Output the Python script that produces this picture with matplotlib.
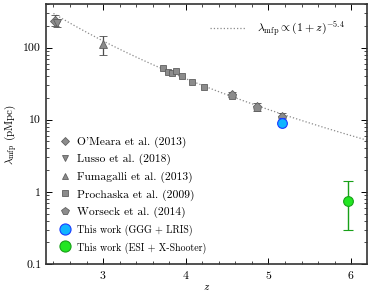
import numpy as np
import matplotlib
matplotlib.use("Agg")
import matplotlib.pyplot as plt
from matplotlib.lines import Line2D
from matplotlib.ticker import FixedLocator, FuncFormatter, MultipleLocator, LogLocator, NullFormatter

plt.rcParams.update({
    'font.family': 'serif',
    'font.serif': ['cmr10'],
    'mathtext.fontset': 'cm',
    'axes.formatter.use_mathtext': True,
    'font.size': 8,
})

# data
omeara_z, omeara_l, omeara_lo, omeara_hi = [2.42], [236.0], [40.0], [43.0]
lusso_z, lusso_l, lusso_lo, lusso_hi = [2.44], [220.0], [25.0], [25.0]
fuma_z, fuma_l, fuma_lo, fuma_hi = [3.0], [112.0], [32.0], [34.0]
proch_z = [3.73, 3.78, 3.83, 3.88, 3.96, 4.07, 4.22]
proch_l = [52.7, 45.5, 45.0, 47.5, 39.7, 33.7, 28.8]
wors_z = [4.56, 4.86, 5.16]
wors_l = [22.2, 15.1, 10.9]
wors_err = [1.8, 1.8, 1.6]
ggg_z, ggg_l, ggg_lo, ggg_hi = [5.16], [9.09], [1.28], [1.62]
esi_z, esi_l, esi_lo, esi_hi = [5.96], [0.75], [0.45], [0.65]
fit_norm, fit_slope = 37.0, -5.4

grey = '#8c8c8c'
grey_edge = '#5f5f5f'
err_grey = '#4d4d4d'

fig = plt.figure(figsize=(3.74, 2.93), dpi=100)
ax = fig.add_axes([0.123, 0.099, 0.858, 0.887])

zz = np.linspace(2.4, 6.2, 200)
ax.plot(zz, fit_norm * ((1 + zz) / 5.0) ** fit_slope, ls=':', color='#8a8a8a', lw=0.9, zorder=1)

eb = dict(ecolor=err_grey, elinewidth=0.9, capsize=3, capthick=0.9, ls='none', zorder=3)
ax.errorbar(omeara_z, omeara_l, yerr=[omeara_lo, omeara_hi], marker='D', ms=5,
            mfc=grey, mec=grey_edge, mew=0.6, **eb)
ax.errorbar(lusso_z, lusso_l, yerr=[lusso_lo, lusso_hi], marker='v', ms=6,
            mfc=grey, mec=grey_edge, mew=0.6, **eb)
ax.errorbar(fuma_z, fuma_l, yerr=[fuma_lo, fuma_hi], marker='^', ms=6,
            mfc=grey, mec=grey_edge, mew=0.6, **eb)
ax.plot(proch_z, proch_l, 's', ms=5, mfc=grey, mec=grey_edge, mew=0.6, zorder=4)
ax.errorbar(wors_z, wors_l, yerr=wors_err, marker='p', ms=6.5,
            mfc=grey, mec=grey_edge, mew=0.6, **eb)
ax.errorbar(ggg_z, ggg_l, yerr=[ggg_lo, ggg_hi], marker='o', ms=7,
            mfc='#10b4ff', mec='#1a3cff', mew=0.8, ecolor='#1a3cff',
            elinewidth=1.0, capsize=2, ls='none', zorder=5)
ax.errorbar(esi_z, esi_l, yerr=[esi_lo, esi_hi], marker='o', ms=7,
            mfc='#22e622', mec='#18a018', mew=0.8, ecolor='#18a018',
            elinewidth=1.0, capsize=3.5, capthick=1.0, ls='none', zorder=5)

ax.set_yscale('log')
ax.set_xlim(2.31, 6.19)
ax.set_ylim(0.1, 400)
ax.yaxis.set_major_locator(FixedLocator([0.1, 1, 10, 100]))
ax.yaxis.set_major_formatter(FuncFormatter(lambda v, p: '%g' % v))
ax.yaxis.set_minor_locator(LogLocator(base=10, subs=np.arange(2, 10)))
ax.yaxis.set_minor_formatter(NullFormatter())
ax.xaxis.set_major_locator(FixedLocator([3, 4, 5, 6]))
ax.xaxis.set_minor_locator(MultipleLocator(0.2))
ax.tick_params(which='both', direction='in', top=True, right=True)
ax.tick_params(which='major', length=4, width=0.7, labelsize=8.5)
ax.tick_params(which='minor', length=2, width=0.5)
for s in ax.spines.values():
    s.set_linewidth(1.2)
    s.set_color('#333333')

ax.set_xlabel(r'$z$', labelpad=1)
ax.set_ylabel(r'$\lambda_{\rm mfp}$ (pMpc)', labelpad=3)

fit_handle = [Line2D([], [], ls=':', color='#8a8a8a', lw=0.9)]
leg1 = ax.legend(fit_handle, [r'$\lambda_{\rm mfp} \propto (1+z)^{-5.4}$'],
                 loc='upper right', frameon=False, fontsize=8.5, handlelength=3,
                 handletextpad=1.0, bbox_to_anchor=(0.965, 0.98))
ax.add_artist(leg1)

mk = dict(ls='none', mfc=grey, mec=grey_edge, mew=0.6)
handles = [
    Line2D([], [], marker='D', ms=4, **mk),
    Line2D([], [], marker='v', ms=5, **mk),
    Line2D([], [], marker='^', ms=5, **mk),
    Line2D([], [], marker='s', ms=4, **mk),
    Line2D([], [], marker='p', ms=5.5, **mk),
    Line2D([], [], marker='o', ms=8, ls='none', mfc='#10b4ff', mec='#1a3cff', mew=0.8),
    Line2D([], [], marker='o', ms=8, ls='none', mfc='#22e622', mec='#18a018', mew=0.8),
]
labels = ["O'Meara et al. (2013)", "Lusso et al. (2018)", "Fumagalli et al. (2013)",
          "Prochaska et al. (2009)", "Worseck et al. (2014)",
          "This work (GGG + LRIS)", "This work (ESI + X-Shooter)"]
leg2 = ax.legend(handles, labels, loc='lower left', frameon=False, fontsize=8.3,
                 handlelength=1.0, handletextpad=0.5, labelspacing=0.55,
                 bbox_to_anchor=(0.01, 0.0))
for t in leg2.get_texts()[5:]:
    t.set_fontsize(7.2)

fig.savefig('out.png', dpi=100)
